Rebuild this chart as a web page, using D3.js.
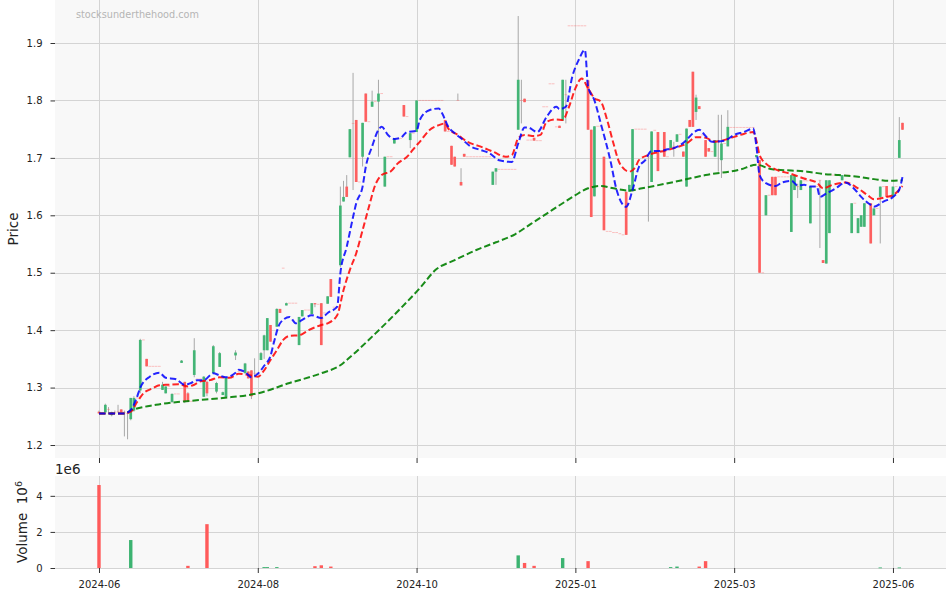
<!DOCTYPE html>
<html><head><meta charset="utf-8">
<script src="https://cdn.jsdelivr.net/npm/d3@7"></script>
<style>
body{margin:0;background:#fff}
svg{display:block}
text{font-family:"DejaVu Sans",sans-serif}
</style>
</head><body>
<svg id="c" width="946" height="594"></svg>
<script>
// ---------- DATA (daily OHLC, trading-day index 0..253) ----------
const opens = [
1.258,1.255,1.257,1.262,1.252,1.256,1.258,1.262,1.257,1.255,
1.245,1.260,1.282,1.295,1.383,1.350,1.337,1.337,1.337,1.337,
1.296,1.290,1.302,1.275,1.289,1.289,1.343,1.310,1.290,1.276,
1.322,1.315,1.315,1.284,1.310,1.313,1.325,1.293,1.336,1.287,
1.284,1.317,1.317,1.356,1.328,1.328,1.325,1.328,1.330,1.325,
1.325,1.348,1.365,1.365,1.409,1.380,1.406,1.437,1.508,1.443,
1.447,1.447,1.447,1.374,1.424,1.435,1.435,1.428,1.447,1.445,
1.447,1.430,1.446,1.489,1.440,1.440,1.513,1.624,1.650,1.701,
1.760,1.766,1.658,1.702,1.812,1.763,1.789,1.798,1.798,1.812,
1.650,1.702,1.702,1.725,1.734,1.734,1.792,1.772,1.731,1.743,
1.745,1.800,1.800,1.800,1.800,1.800,1.800,1.800,1.800,1.766,
1.746,1.721,1.702,1.800,1.658,1.707,1.702,1.702,1.702,1.702,
1.702,1.702,1.702,1.702,1.653,1.676,1.680,1.680,1.680,1.680,
1.680,1.680,1.749,1.800,1.803,1.731,1.731,1.735,1.730,1.730,
1.789,1.789,1.829,1.829,1.754,1.756,1.765,1.810,1.930,1.930,
1.930,1.930,1.930,1.930,1.835,1.749,1.633,1.755,1.755,1.702,
1.572,1.572,1.570,1.570,1.568,1.566,1.641,1.641,1.644,1.750,
1.750,1.750,1.750,1.702,1.658,1.748,1.745,1.712,1.745,1.702,
1.717,1.720,1.728,1.741,1.711,1.650,1.766,1.850,1.780,1.790,
1.740,1.731,1.717,1.711,1.702,1.730,1.696,1.725,1.720,1.753,
1.753,1.753,1.753,1.753,1.753,1.753,1.753,1.701,1.696,1.500,
1.600,1.635,1.667,1.667,1.667,1.667,1.667,1.667,1.571,1.644,
1.650,1.644,1.660,1.660,1.586,1.650,1.650,1.661,1.522,1.516,
1.569,1.670,1.670,1.670,1.661,1.670,1.670,1.569,1.621,1.569,
1.580,1.580,1.621,1.621,1.600,1.612,1.632,1.650,1.651,1.632,
1.632,1.650,1.700,1.761];
const highs = [
1.260,1.255,1.272,1.266,1.258,1.260,1.270,1.262,1.260,1.258,
1.282,1.285,1.282,1.385,1.383,1.350,1.337,1.337,1.337,1.337,
1.310,1.302,1.302,1.290,1.289,1.289,1.348,1.310,1.292,1.276,
1.386,1.315,1.315,1.320,1.312,1.313,1.374,1.310,1.362,1.293,
1.318,1.317,1.317,1.365,1.328,1.328,1.343,1.328,1.330,1.351,
1.325,1.362,1.392,1.421,1.409,1.380,1.438,1.437,1.508,1.448,
1.447,1.447,1.447,1.423,1.435,1.435,1.435,1.447,1.447,1.445,
1.447,1.430,1.459,1.489,1.440,1.440,1.650,1.660,1.670,1.750,
1.848,1.766,1.658,1.761,1.812,1.763,1.817,1.798,1.836,1.812,
1.702,1.702,1.702,1.734,1.734,1.734,1.792,1.772,1.743,1.743,
1.800,1.800,1.800,1.800,1.800,1.800,1.800,1.800,1.800,1.766,
1.746,1.721,1.702,1.812,1.682,1.707,1.702,1.702,1.702,1.702,
1.702,1.702,1.702,1.702,1.676,1.682,1.680,1.680,1.680,1.680,
1.680,1.680,1.947,1.836,1.803,1.731,1.731,1.735,1.730,1.730,
1.789,1.789,1.829,1.829,1.754,1.756,1.836,1.836,1.930,1.930,
1.930,1.930,1.930,1.930,1.835,1.749,1.755,1.755,1.755,1.702,
1.572,1.572,1.570,1.570,1.568,1.566,1.641,1.653,1.750,1.750,
1.750,1.750,1.750,1.702,1.746,1.748,1.745,1.712,1.745,1.702,
1.731,1.728,1.741,1.741,1.711,1.751,1.766,1.850,1.810,1.790,
1.740,1.731,1.717,1.711,1.731,1.775,1.775,1.725,1.783,1.753,
1.753,1.753,1.753,1.753,1.753,1.753,1.753,1.705,1.696,1.500,
1.635,1.635,1.667,1.667,1.667,1.667,1.667,1.667,1.670,1.670,
1.655,1.661,1.660,1.660,1.650,1.650,1.650,1.661,1.522,1.661,
1.661,1.670,1.670,1.670,1.670,1.670,1.670,1.621,1.621,1.595,
1.600,1.621,1.621,1.621,1.612,1.612,1.650,1.650,1.651,1.632,
1.650,1.650,1.771,1.761];
const lows = [
1.255,1.255,1.257,1.255,1.250,1.254,1.256,1.257,1.215,1.210,
1.243,1.258,1.282,1.290,1.383,1.337,1.337,1.337,1.337,1.337,
1.296,1.290,1.302,1.273,1.289,1.289,1.343,1.273,1.276,1.276,
1.318,1.315,1.315,1.284,1.285,1.313,1.325,1.290,1.336,1.287,
1.284,1.317,1.317,1.348,1.328,1.328,1.325,1.316,1.280,1.318,
1.325,1.348,1.350,1.365,1.380,1.380,1.406,1.430,1.508,1.443,
1.447,1.447,1.447,1.374,1.424,1.435,1.435,1.428,1.440,1.445,
1.374,1.430,1.446,1.458,1.440,1.440,1.510,1.624,1.632,1.701,
1.644,1.658,1.658,1.685,1.763,1.763,1.789,1.798,1.702,1.812,
1.650,1.702,1.702,1.725,1.734,1.734,1.772,1.772,1.717,1.743,
1.745,1.800,1.800,1.800,1.800,1.800,1.800,1.800,1.800,1.746,
1.746,1.688,1.685,1.800,1.652,1.702,1.702,1.702,1.702,1.702,
1.702,1.702,1.702,1.702,1.653,1.653,1.680,1.680,1.680,1.680,
1.680,1.680,1.749,1.760,1.797,1.731,1.731,1.730,1.730,1.730,
1.789,1.789,1.829,1.829,1.754,1.752,1.765,1.760,1.930,1.930,
1.930,1.930,1.930,1.930,1.749,1.597,1.633,1.755,1.755,1.574,
1.572,1.572,1.570,1.570,1.568,1.566,1.566,1.641,1.644,1.750,
1.750,1.750,1.750,1.589,1.658,1.748,1.677,1.712,1.702,1.702,
1.717,1.702,1.728,1.741,1.702,1.650,1.754,1.754,1.766,1.785,
1.740,1.702,1.711,1.711,1.702,1.676,1.665,1.725,1.720,1.753,
1.753,1.753,1.753,1.753,1.753,1.753,1.753,1.701,1.500,1.500,
1.600,1.635,1.635,1.635,1.667,1.667,1.667,1.667,1.571,1.644,
1.630,1.644,1.660,1.660,1.586,1.650,1.650,1.543,1.517,1.516,
1.569,1.670,1.670,1.670,1.661,1.670,1.670,1.569,1.621,1.569,
1.580,1.580,1.621,1.551,1.600,1.612,1.551,1.650,1.632,1.632,
1.632,1.650,1.700,1.749];
const closes = [
1.255,1.255,1.270,1.262,1.257,1.256,1.258,1.257,1.257,1.255,
1.282,1.282,1.282,1.383,1.383,1.337,1.337,1.337,1.337,1.337,
1.305,1.302,1.302,1.289,1.289,1.289,1.347,1.276,1.276,1.276,
1.365,1.315,1.315,1.319,1.290,1.313,1.372,1.308,1.360,1.292,
1.317,1.317,1.317,1.361,1.328,1.328,1.342,1.316,1.285,1.325,
1.325,1.360,1.391,1.421,1.380,1.380,1.437,1.430,1.508,1.447,
1.447,1.447,1.447,1.423,1.435,1.435,1.435,1.447,1.445,1.445,
1.374,1.430,1.459,1.458,1.440,1.440,1.617,1.632,1.632,1.750,
1.760,1.658,1.658,1.761,1.763,1.763,1.798,1.798,1.812,1.812,
1.702,1.702,1.702,1.734,1.734,1.734,1.772,1.772,1.743,1.743,
1.800,1.800,1.800,1.800,1.800,1.800,1.800,1.800,1.800,1.746,
1.746,1.688,1.685,1.800,1.652,1.702,1.702,1.702,1.702,1.702,
1.702,1.702,1.702,1.702,1.676,1.682,1.680,1.680,1.680,1.680,
1.680,1.680,1.836,1.800,1.797,1.731,1.731,1.730,1.730,1.730,
1.789,1.789,1.829,1.829,1.754,1.752,1.836,1.810,1.930,1.930,
1.930,1.930,1.930,1.930,1.749,1.597,1.755,1.755,1.755,1.574,
1.572,1.572,1.570,1.570,1.568,1.566,1.566,1.653,1.750,1.750,
1.750,1.750,1.750,1.702,1.746,1.748,1.677,1.712,1.702,1.702,
1.731,1.720,1.741,1.741,1.702,1.751,1.754,1.754,1.805,1.785,
1.740,1.702,1.711,1.711,1.731,1.730,1.725,1.725,1.754,1.753,
1.753,1.753,1.753,1.753,1.753,1.753,1.753,1.705,1.500,1.500,
1.635,1.635,1.635,1.635,1.667,1.667,1.667,1.667,1.670,1.670,
1.650,1.661,1.660,1.660,1.650,1.650,1.650,1.661,1.517,1.661,
1.661,1.670,1.670,1.670,1.670,1.670,1.670,1.621,1.621,1.595,
1.600,1.621,1.621,1.551,1.612,1.612,1.650,1.650,1.632,1.632,
1.650,1.650,1.731,1.749];

// volume (millions) on the days that traded
const volumeDays = [0,10,28,34,52,53,56,68,70,73,132,134,137,146,154,180,182,189,191,246,252];
const volumeM    = [4.6,1.55,0.12,2.43,0.05,0.05,0.05,0.1,0.15,0.08,0.7,0.28,0.12,0.55,0.38,0.05,0.08,0.08,0.38,0.03,0.03];

// moving averages (index, value)
const fastIdx = [0,8,10,12,13,16,19,21,24,27,29,31,33,36,38,40,43,44,46,48,50,52,54,55,57,60,62,64,67,70,72,75,76,78,80,81,83,84,86,88,89,91,93,95,97,100,101,104,107,108,110,112,114,117,120,123,126,130,132,134,135,138,141,144,145,147,149,151,153,154,156,158,161,163,166,168,170,172,174,177,179,181,183,185,187,189,191,193,197,200,203,206,207,208,210,213,215,218,220,222,224,226,227,229,232,235,238,240,243,244,247,250,252,253];
const fastVal = [1.255,1.255,1.261,1.284,1.300,1.319,1.326,1.317,1.315,1.305,1.308,1.313,1.313,1.325,1.321,1.318,1.326,1.331,1.327,1.318,1.324,1.338,1.355,1.377,1.412,1.423,1.412,1.418,1.426,1.421,1.430,1.441,1.499,1.545,1.597,1.621,1.650,1.684,1.720,1.749,1.754,1.740,1.733,1.735,1.745,1.747,1.766,1.783,1.786,1.778,1.754,1.743,1.734,1.720,1.714,1.708,1.696,1.693,1.725,1.753,1.753,1.745,1.772,1.789,1.785,1.789,1.841,1.870,1.888,1.824,1.800,1.760,1.696,1.644,1.615,1.644,1.684,1.696,1.712,1.712,1.715,1.717,1.722,1.731,1.743,1.749,1.738,1.728,1.730,1.740,1.745,1.751,1.720,1.670,1.656,1.651,1.657,1.660,1.652,1.653,1.650,1.650,1.632,1.638,1.647,1.657,1.645,1.632,1.618,1.615,1.624,1.632,1.645,1.667];
const midIdx = [0,8,10,12,14,17,19,22,25,28,30,32,35,38,41,44,47,50,52,54,56,58,60,63,66,70,72,75,77,79,81,83,85,87,89,92,94,97,100,101,104,107,109,110,113,116,120,124,128,130,132,134,137,139,141,144,146,148,150,152,154,156,158,160,162,164,167,169,170,173,177,181,185,188,191,194,198,202,206,207,208,210,213,218,222,226,228,231,235,239,242,244,248,250,253];
const midVal = [1.255,1.255,1.258,1.275,1.290,1.299,1.304,1.305,1.306,1.302,1.305,1.311,1.313,1.318,1.317,1.324,1.322,1.319,1.330,1.348,1.365,1.383,1.390,1.391,1.400,1.409,1.412,1.426,1.470,1.505,1.534,1.574,1.615,1.653,1.670,1.677,1.690,1.702,1.722,1.728,1.748,1.757,1.760,1.751,1.740,1.728,1.720,1.711,1.702,1.705,1.734,1.740,1.738,1.740,1.763,1.767,1.766,1.789,1.821,1.838,1.821,1.804,1.798,1.766,1.725,1.690,1.676,1.685,1.696,1.705,1.711,1.717,1.725,1.736,1.735,1.728,1.733,1.740,1.745,1.730,1.705,1.690,1.680,1.672,1.664,1.657,1.647,1.653,1.657,1.647,1.635,1.628,1.632,1.635,1.651];
const slowIdx = [0,8,10,18,29,39,50,60,70,76,78,87,95,101,106,112,119,125,131,136,141,146,150,154,158,162,167,171,181,191,202,207,212,218,223,228,233,239,244,249,253];
const slowVal = [1.255,1.255,1.260,1.270,1.277,1.282,1.290,1.308,1.325,1.339,1.348,1.394,1.438,1.473,1.505,1.522,1.540,1.553,1.567,1.585,1.603,1.621,1.635,1.647,1.651,1.647,1.643,1.647,1.658,1.670,1.680,1.688,1.680,1.678,1.676,1.672,1.670,1.667,1.663,1.660,1.661];

// axes
const tickIdx = [0,50,100,150,200,250];
const tickLabels = ["2024-06","2024-08","2024-10","2025-01","2025-03","2025-06"];
const priceTicks = [1.2,1.3,1.4,1.5,1.6,1.7,1.8,1.9];
const volTicks = [0,2,4];

// ---------- DRAW ----------
const svg = d3.select("#c");
const L = 55, R = 946, PT = 0, PB = 458, VT = 476, VB = 568;
const x = d3.scaleLinear().domain([-13.85, 266.7]).range([L, R]);
const yP = d3.scaleLinear().domain([1.1774, 1.9749]).range([PB, PT]);
const yV = d3.scaleLinear().domain([0, 5.1]).range([VB, VT]);
const UP = "#3cb371", DN = "#ff5a5a", WICK = "#a8a8a8", GRID = "#d4d4d4";

svg.append("rect").attr("x", L).attr("y", PT).attr("width", R - L).attr("height", PB - PT).attr("fill", "#f8f8f8");
svg.append("rect").attr("x", L).attr("y", VT).attr("width", R - L).attr("height", VB - VT).attr("fill", "#f8f8f8");

const grid = svg.append("g").attr("stroke", GRID).attr("stroke-width", 1);
priceTicks.forEach(t => grid.append("line").attr("x1", L).attr("x2", R).attr("y1", Math.round(yP(t)) + 0.5).attr("y2", Math.round(yP(t)) + 0.5));
volTicks.forEach(t => grid.append("line").attr("x1", L).attr("x2", R).attr("y1", Math.round(yV(t)) + 0.5).attr("y2", Math.round(yV(t)) + 0.5));
tickIdx.forEach(t => {
  const xx = Math.round(x(t)) + 0.5;
  grid.append("line").attr("x1", xx).attr("x2", xx).attr("y1", PT).attr("y2", PB);
  grid.append("line").attr("x1", xx).attr("x2", xx).attr("y1", VT).attr("y2", VB);
});

function styleAxis(g, fs) {
  g.select(".domain").remove();
  g.selectAll(".tick line").attr("stroke", "#333");
  g.selectAll(".tick text").attr("fill", "#222").style("font-size", fs + "px").style("font-family", "DejaVu Sans");
}
svg.append("g").attr("transform", `translate(${L},0)`)
  .call(d3.axisLeft(yP).tickValues(priceTicks).tickFormat(d3.format(".1f")).tickSizeInner(4.5).tickSizeOuter(0).tickPadding(8))
  .call(g => styleAxis(g, 10));
svg.append("g").attr("transform", `translate(${L},0)`)
  .call(d3.axisLeft(yV).tickValues(volTicks).tickFormat(d3.format("d")).tickSizeInner(4.5).tickSizeOuter(0).tickPadding(8))
  .call(g => styleAxis(g, 10));
svg.append("g").attr("transform", `translate(0,${PB})`)
  .call(d3.axisBottom(x).tickValues(tickIdx).tickFormat("").tickSizeInner(5).tickSizeOuter(0))
  .call(g => styleAxis(g, 10));
svg.append("g").attr("transform", `translate(0,${VB})`)
  .call(d3.axisBottom(x).tickValues(tickIdx).tickFormat((d, i) => tickLabels[i]).tickSizeInner(5).tickSizeOuter(0).tickPadding(7.5))
  .call(g => styleAxis(g, 10));

// candles
const data = d3.range(closes.length).map(i => ({ i, o: opens[i], h: highs[i], l: lows[i], c: closes[i] }));
const BW = 2.7;
svg.append("g").selectAll("line").data(data.filter(d => d.h > d.l)).join("line")
  .attr("x1", d => x(d.i)).attr("x2", d => x(d.i))
  .attr("y1", d => yP(d.h)).attr("y2", d => yP(d.l))
  .attr("stroke", WICK).attr("stroke-width", 1);
svg.append("g").selectAll("rect").data(data).join("rect")
  .attr("x", d => x(d.i) - BW / 2).attr("width", BW)
  .attr("y", d => d.c === d.o ? yP(d.c) - 0.5 : yP(Math.max(d.o, d.c)))
  .attr("height", d => d.c === d.o ? 1 : Math.max(1, Math.abs(yP(d.o) - yP(d.c))))
  .attr("fill", d => d.c > d.o ? UP : DN)
  .attr("fill-opacity", d => d.c === d.o ? 0.35 : 0.95);

// moving averages
function ma(idx, val, color, op) {
  const pts = idx.map((k, j) => [x(k), yP(val[j])]);
  svg.append("path").attr("d", d3.line().curve(d3.curveMonotoneX)(pts))
    .attr("fill", "none").attr("stroke", color).attr("stroke-width", 2)
    .attr("stroke-dasharray", "6.5,3").attr("stroke-opacity", op);
}
ma(slowIdx, slowVal, "#008000", 0.9);
ma(midIdx, midVal, "#ff0000", 0.85);
ma(fastIdx, fastVal, "#0000ff", 0.85);

// volume bars
const VBW = 3.4;
svg.append("g").selectAll("rect").data(volumeDays.map((k, j) => ({ k, v: volumeM[j] }))).join("rect")
  .attr("x", d => x(d.k) - VBW / 2).attr("width", VBW)
  .attr("y", d => yV(d.v)).attr("height", d => Math.max(0.8, yV(0) - yV(d.v)))
  .attr("fill", d => closes[d.k] > opens[d.k] ? UP : DN);

// texts
svg.append("text").attr("x", 76).attr("y", 18).text("stocksunderthehood.com")
  .attr("fill", "#b5b5b5").style("font-size", "9.7px");
svg.append("text").attr("transform", "translate(18,229) rotate(-90)").attr("text-anchor", "middle")
  .text("Price").attr("fill", "#222").style("font-size", "13.5px");
svg.append("text").attr("x", 55).attr("y", 473.5).text("1e6").attr("fill", "#222").style("font-size", "13.5px");
const vl = svg.append("text").attr("transform", "translate(26.5,522) rotate(-90)").attr("text-anchor", "middle")
  .attr("fill", "#222").style("font-size", "13.5px");
vl.append("tspan").text("Volume\u00a0\u00a010");
vl.append("tspan").attr("dy", "-0.45em").style("font-size", "9.5px").text("6");
</script>
</body></html>
